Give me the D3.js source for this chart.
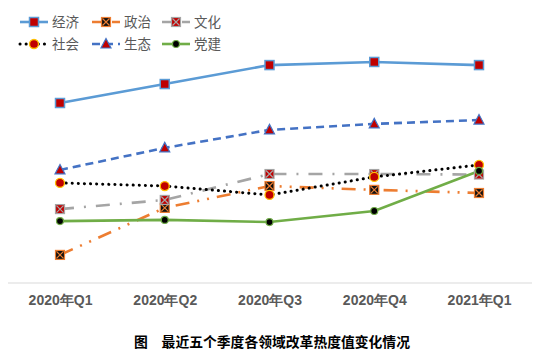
<!DOCTYPE html>
<html>
<head>
<meta charset="utf-8">
<script src="https://d3js.org/d3.v7.min.js"></script>
<style>
  body { margin: 0; background: #fff; }
  svg { font-family: "Noto Sans CJK SC", "Noto Sans", sans-serif; }
</style>
</head>
<body>
<div id="chart"></div>
<script>
var quarters = ["2020年Q1", "2020年Q2", "2020年Q3", "2020年Q4", "2021年Q1"]
var jingji = [75.0, 82.9, 90.8, 92.1, 90.8]
var zhengzhi = [11.7, 31.3, 40.4, 38.8, 37.5]
var wenhua = [30.8, 34.6, 45.4, 45.4, 45.2]
var shehui = [41.7, 40.4, 36.7, 44.2, 49.2]
var shengtai = [47.1, 56.3, 63.8, 66.3, 67.9]
var dangjian = [25.8, 26.3, 25.4, 30.0, 46.7]

var series = [
  { name: "经济", values: jingji, color: "#5b9bd5", dash: null, marker: "square", fill: "#c00000", stroke: "#5b9bd5" },
  { name: "政治", values: zhengzhi, color: "#ed7d31", dash: "14,8,2,8,2,8", marker: "xsquare", fill: "#111", stroke: "#ed7d31" },
  { name: "文化", values: wenhua, color: "#a5a5a5", dash: "14,10,2,10", marker: "xsquare", fill: "#c00000", stroke: "#a5a5a5" },
  { name: "社会", values: shehui, color: "#000", dash: "0.1,6", marker: "circle", fill: "#c00000", stroke: "#ffc000" },
  { name: "生态", values: shengtai, color: "#4472c4", dash: "8,5", marker: "triangle", fill: "#c00000", stroke: "#4472c4" },
  { name: "党建", values: dangjian, color: "#70ad47", dash: null, marker: "dot", fill: "#000", stroke: "#70ad47" }
]

var width = 540, height = 358

var svg = d3.select("#chart").append("svg")
  .attr("width", width)
  .attr("height", height)

var x = d3.scalePoint().domain(quarters).range([60, 479])
var y = d3.scaleLinear().domain([0, 100]).range([283, 43])

// bottom axis line
svg.append("line")
  .attr("x1", 8).attr("x2", 532)
  .attr("y1", y(0)).attr("y2", y(0))
  .style("stroke", "#d9d9d9")
  .style("stroke-width", 1)

var xAxis = d3.axisBottom(x).tickSize(0).tickPadding(12)
var gx = svg.append("g").attr("transform", "translate(0," + y(0) + ")").call(xAxis)
gx.select(".domain").remove()
gx.selectAll("text")
  .style("font-size", "14px")
  .style("font-weight", "bold")
  .style("fill", "#595959")

function drawMarker(g, s, cx, cy) {
  if (s.marker == "square") {
    g.append("rect").attr("x", cx - 4.5).attr("y", cy - 4.5).attr("width", 9).attr("height", 9)
      .style("fill", s.fill).style("stroke", s.stroke).style("stroke-width", 1.5)
  } else if (s.marker == "xsquare") {
    g.append("rect").attr("x", cx - 4.5).attr("y", cy - 4.5).attr("width", 9).attr("height", 9)
      .style("fill", s.fill).style("stroke", s.stroke).style("stroke-width", 1.2)
    g.append("path")
      .attr("d", "M" + (cx - 3.5) + "," + (cy - 3.5) + "L" + (cx + 3.5) + "," + (cy + 3.5) +
        "M" + (cx + 3.5) + "," + (cy - 3.5) + "L" + (cx - 3.5) + "," + (cy + 3.5))
      .style("stroke", s.stroke).style("stroke-width", 1.2)
  } else if (s.marker == "circle") {
    g.append("circle").attr("cx", cx).attr("cy", cy).attr("r", 4.5)
      .style("fill", s.fill).style("stroke", s.stroke).style("stroke-width", 1.3)
  } else if (s.marker == "triangle") {
    g.append("path")
      .attr("d", "M" + cx + "," + (cy - 5.5) + "L" + (cx + 5) + "," + (cy + 4) + "L" + (cx - 5) + "," + (cy + 4) + "Z")
      .style("fill", s.fill).style("stroke", s.stroke).style("stroke-width", 1.2)
  } else if (s.marker == "dot") {
    g.append("circle").attr("cx", cx).attr("cy", cy).attr("r", 3.5)
      .style("fill", s.fill).style("stroke", s.stroke).style("stroke-width", 1.2)
  }
}

var line = d3.line()
  .x(function(d, i) { return x(quarters[i]) })
  .y(function(d) { return y(d) })

series.forEach(function(s) {
  var p = svg.append("path")
    .datum(s.values)
    .attr("d", line)
    .style("fill", "none")
    .style("stroke", s.color)
    .style("stroke-width", s.marker == "circle" ? 3 : 2.6)
  if (s.dash) p.style("stroke-dasharray", s.dash)
  if (s.marker == "circle") p.style("stroke-linecap", "round")
})

series.forEach(function(s) {
  var g = svg.append("g")
  s.values.forEach(function(v, i) {
    drawMarker(g, s, x(quarters[i]), y(v))
  })
})

// legend
var legendX = [20, 92, 162]
var legendY = [22, 44]
series.forEach(function(s, i) {
  var lx = legendX[i % 3], ly = legendY[Math.floor(i / 3)]
  var g = svg.append("g")
  var ll = g.append("line")
    .attr("x1", lx).attr("x2", lx + 28)
    .attr("y1", ly).attr("y2", ly)
    .style("stroke", s.color)
    .style("stroke-width", s.marker == "circle" ? 3 : 2.6)
  if (s.dash) ll.style("stroke-dasharray", s.marker == "circle" ? "0.1,6" : (s.marker == "triangle" ? "8,5" : "10,4,2,4"))
  if (s.marker == "circle") ll.style("stroke-linecap", "round")
  drawMarker(g, s, lx + 14, ly)
  g.append("text")
    .attr("x", lx + 32).attr("y", ly)
    .attr("dy", "0.36em")
    .style("font-size", "13.5px")
    .style("fill", "#595959")
    .text(s.name)
})

svg.append("text")
  .attr("x", 272).attr("y", 347)
  .attr("text-anchor", "middle")
  .style("font-size", "13.8px")
  .style("font-weight", "bold")
  .style("fill", "#000")
  .text("图　最近五个季度各领域改革热度值变化情况")
</script>
</body>
</html>
